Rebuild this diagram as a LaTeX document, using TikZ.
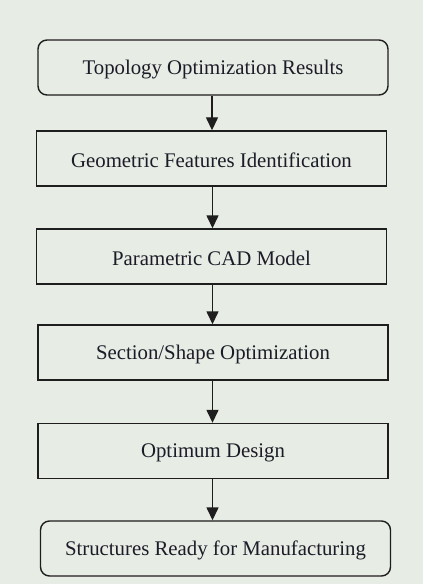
\documentclass[tikz,border=0pt]{standalone}
\usepackage{fontspec}
\setmainfont{Liberation Serif}
\usetikzlibrary{arrows.meta}
\definecolor{bgc}{RGB}{231,236,228}
\definecolor{ln}{RGB}{30,30,30}
\definecolor{tx}{RGB}{28,28,40}
\begin{document}
\begin{tikzpicture}[x=1bp,y=-1bp,
  box/.style={draw=ln,line width=1.4bp,fill=bgc,minimum width=350bp,minimum height=55bp,inner sep=0pt,font=\fontsize{20.8bp}{23bp}\selectfont,text=tx},
  rbox/.style={box,rounded corners=9bp},
  lbl/.style={font=\fontsize{20.8bp}{23bp}\selectfont,text=tx,inner sep=0pt},
  arr/.style={draw=ln,line width=1.4bp,-{Triangle[length=13bp,width=12bp]}}]
\fill[bgc] (0,0) rectangle (423,584);
\useasboundingbox (0,0) rectangle (423,584);
\node[rbox] (a) at (213,67.5) {};
\node[box] (b) at (211.5,158.5) {};
\node[box] (c) at (211.5,256.5) {};
\node[box] (d) at (213,352.5) {};
\node[box] (e) at (213,451) {};
\node[rbox] (f) at (215.5,548.5) {};
\node[lbl] (ta) at ([yshift=-2bp]a.center) {Topology Optimization Results};
\node[lbl] (tb) at ([yshift=-2bp]b.center) {Geometric Features Identification};
\node[lbl] (tc) at ([yshift=-2bp]c.center) {Parametric CAD Model};
\node[lbl] (td) at ([yshift=-2bp]d.center) {Section/Shape Optimization};
\node[lbl] (te) at ([yshift=-2bp]e.center) {Optimum Design};
\node[lbl] (tf) at ([yshift=-2bp]f.center) {Structures Ready for Manufacturing};
\draw[arr] (a.south -| 212,0) -- (212,0 |- b.north);
\draw[arr] (b.south -| 212.5,0) -- (212.5,0 |- c.north);
\draw[arr] (c.south -| 212.5,0) -- (212.5,0 |- d.north);
\draw[arr] (d.south -| 212.5,0) -- (212.5,0 |- e.north);
\draw[arr] (e.south -| 212.5,0) -- (212.5,0 |- f.north);
\end{tikzpicture}
\end{document}
